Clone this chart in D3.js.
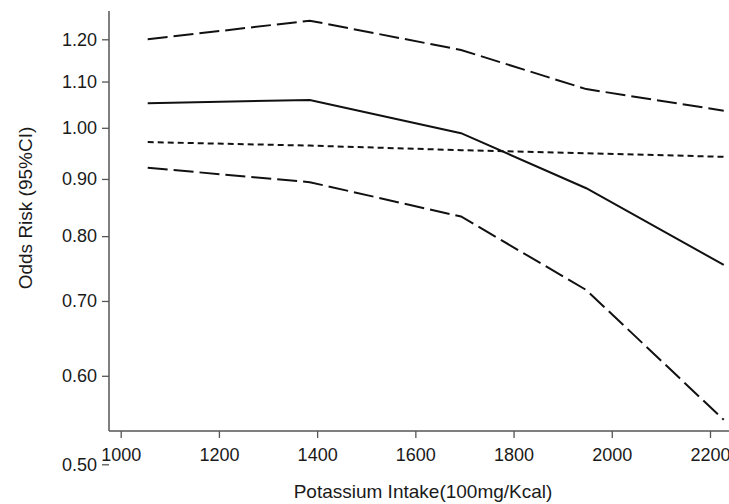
<!DOCTYPE html>
<html>
<head>
<meta charset="utf-8">
<script src="https://cdn.jsdelivr.net/npm/d3@7"></script>
<style>
  body { margin: 0; background: #fff; }
  svg { display: block; }
  .tick text { font-family: "Liberation Sans", Arial, sans-serif; font-size: 18px; fill: #1a1a1a; }
  .tick line { stroke: #555; stroke-width: 1.3; }
  .aText { font-family: "Liberation Sans", Arial, sans-serif; font-size: 19px; fill: #1a1a1a; }
</style>
</head>
<body>
<div id="chart"></div>
<script>
var svgWidth = 729;
var svgHeight = 504;

// potassium intake (x) and estimates
var intake = [1055, 1385, 1693, 1948, 2228];
var oddsRisk = [1.052, 1.059, 0.989, 0.883, 0.754];
var upperCI = [1.200, 1.247, 1.174, 1.083, 1.036];
var lowerCI = [0.921, 0.894, 0.833, 0.716, 0.548];
var refLine = [0.971, 0.964, 0.955, 0.949, 0.942];

var xTicks = [1000, 1200, 1400, 1600, 1800, 2000, 2200];
var yTicks = [0.50, 0.60, 0.70, 0.80, 0.90, 1.00, 1.10, 1.20];

var svg = d3.select("#chart")
  .append("svg")
  .attr("width", svgWidth)
  .attr("height", svgHeight);

// scales
var xScale = d3.scaleLinear()
  .domain([1000, 2200])
  .range([120.7, 710]);

var yScale = d3.scaleLog()
  .domain([0.5, 1.2])
  .range([464.3, 39.3]);

var axisLeftX = 109;
var axisBottomY = 431;

// y axis
var yAxis = d3.axisLeft(yScale)
  .tickValues(yTicks)
  .tickFormat(d3.format(".2f"))
  .tickSize(7)
  .tickPadding(5);

var yG = svg.append("g")
  .attr("transform", `translate(${axisLeftX}, 0)`)
  .call(yAxis);
yG.select(".domain").remove();

// x axis
var xAxis = d3.axisBottom(xScale)
  .tickValues(xTicks)
  .tickFormat(d3.format("d"))
  .tickSize(7)
  .tickPadding(10);

var xG = svg.append("g")
  .attr("transform", `translate(0, ${axisBottomY})`)
  .call(xAxis);
xG.select(".domain").remove();

// axis lines (the log axis starts below the frame corner)
svg.append("line")
  .attr("x1", axisLeftX).attr("x2", axisLeftX)
  .attr("y1", 11).attr("y2", axisBottomY)
  .attr("stroke", "#555").attr("stroke-width", 1.5);
svg.append("line")
  .attr("x1", axisLeftX).attr("x2", svgWidth + 5)
  .attr("y1", axisBottomY).attr("y2", axisBottomY)
  .attr("stroke", "#555").attr("stroke-width", 1.5);

// lines
var series = [
  { values: upperCI, dash: "20,6", width: 2 },
  { values: oddsRisk, dash: null, width: 2 },
  { values: refLine, dash: "6,4", width: 2 },
  { values: lowerCI, dash: "20,6", width: 2 }
];

var line = d3.line()
  .x(d => xScale(d[0]))
  .y(d => yScale(d[1]));

series.forEach(function(s) {
  svg.append("path")
    .datum(intake.map((x, i) => [x, s.values[i]]))
    .attr("d", line)
    .attr("fill", "none")
    .attr("stroke", "#111")
    .attr("stroke-width", s.width)
    .attr("stroke-dasharray", s.dash);
});

// axis titles
svg.append("text")
  .attr("class", "aText")
  .attr("text-anchor", "middle")
  .attr("transform", "translate(423, 498)")
  .text("Potassium Intake(100mg/Kcal)");

svg.append("text")
  .attr("class", "aText")
  .attr("text-anchor", "middle")
  .attr("transform", "translate(32, 208) rotate(-90)")
  .text("Odds Risk (95%CI)");
</script>
</body>
</html>
